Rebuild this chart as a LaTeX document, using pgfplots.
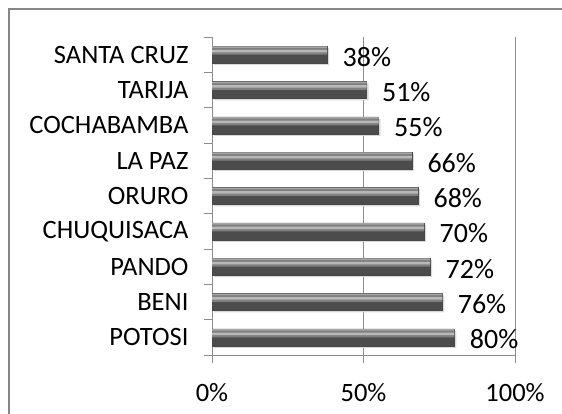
\documentclass[border=0pt]{standalone}
\usepackage{pgfplots}
\pgfplotsset{compat=1.18}
\usepackage{pgfplotstable}
\usepackage{fontspec}
\setmainfont{Carlito}
\pgfplotstableread{
val pos
80 0
76 1
72 2
70 3
68 4
66 5
55 6
51 7
38 8
}\datatable
\begin{document}
\begin{tikzpicture}[x=1pt,y=1pt]
\path[use as bounding box] (0,0) rectangle (562,414);
\draw[color=black!47, line width=1.8pt] (8.8,0) -- (8.8,405.2) -- (562,405.2);
\begin{axis}[
  at={(212pt,59pt)}, anchor=south west,
  scale only axis, width=303pt, height=318pt,
  xmin=0, xmax=100, ymin=-0.5, ymax=8.5,
  axis x line*=bottom, axis y line*=left,
  axis line style={draw=black!45, line width=0.8pt},
  xtick={0,50,100}, xticklabels={0\%,50\%,100\%},
  xmajorgrids, grid style={black!45, line width=0.8pt},
  ytick={0,...,8},
  yticklabels={POTOSI,BENI,PANDO,CHUQUISACA,ORURO,LA PAZ,COCHABAMBA,TARIJA,SANTA CRUZ},
  minor ytick={-0.5,0.5,...,8.5},
  tick align=outside, major tick length=8pt, minor tick length=8pt,
  major y tick style={draw=none},
  tick style={black!45, line width=0.8pt},
  tick label style={font=\fontsize{26.5}{26.5}\selectfont, black},
  yticklabel style={xshift=-12pt},
  xticklabel style={yshift=-17pt},
  /pgf/number format/assume math mode=true,
  clip=false,
]
% shadow
\addplot[xbar, bar width=17pt, bar shift=-2pt, xshift=2pt, fill=black!15, draw=none] table[x=val, y=pos] {\datatable};
% base (dark lower part)
\addplot[xbar, bar width=17pt, fill=black!70, draw=black!72] table[x=val, y=pos] {\datatable};
% upper medium part
\addplot[xbar, bar width=8pt, bar shift=4pt, fill=black!50, draw=none] table[x=val, y=pos] {\datatable};
% highlight stripe
\addplot[xbar, bar width=2.5pt, bar shift=3.5pt, fill=black!28, draw=none] table[x=val, y=pos] {\datatable};
% top edge
\addplot[xbar, bar width=1.5pt, bar shift=7.5pt, fill=black!35, draw=none,
  point meta=x,
  nodes near coords={\pgfmathprintnumber{\pgfplotspointmeta}\%},
  nodes near coords style={font=\fontsize{28}{28}\selectfont, black, xshift=12pt, yshift=-2pt}]
  table[x=val, y=pos] {\datatable};
\end{axis}
\end{tikzpicture}
\end{document}
